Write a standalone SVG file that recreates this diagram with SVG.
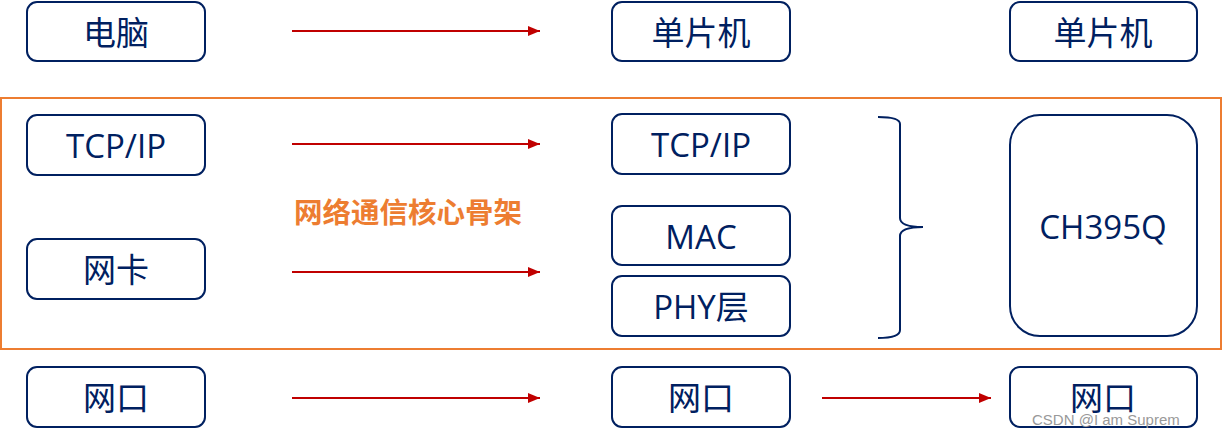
<svg xmlns="http://www.w3.org/2000/svg" width="1223" height="438" viewBox="0 0 1223 438">
<style>
.box{fill:#fff;stroke:#002060;stroke-width:2}
.t{font-family:"Open Sans","Noto Sans CJK SC",sans-serif;font-size:33px;fill:#002060;text-anchor:middle;dominant-baseline:central}
.arr{stroke:#C00000;stroke-width:2;fill:none;marker-end:url(#ah)}
</style>
<defs>
<marker id="ah" markerWidth="12" markerHeight="10" refX="12" refY="5" orient="auto" markerUnits="userSpaceOnUse">
<path d="M0,0 L12,5 L0,10 Z" fill="#C00000"/>
</marker>
</defs>
<rect x="1" y="98" width="1220" height="251" fill="none" stroke="#ED7D31" stroke-width="2"/>
<g id="pc"><rect class="box" x="27" y="2" width="178" height="59" rx="10"/><text class="t" x="116" y="32">电脑</text></g>
<g id="tcp1"><rect class="box" x="27" y="115" width="178" height="60" rx="10"/><text class="t" x="116" y="145">TCP/IP</text></g>
<g id="nic"><rect class="box" x="27" y="239" width="178" height="60" rx="10"/><text class="t" x="116" y="269">网卡</text></g>
<g id="port1"><rect class="box" x="27" y="367" width="178" height="60" rx="10"/><text class="t" x="116" y="397">网口</text></g>
<g id="mcu1"><rect class="box" x="612" y="2" width="178" height="59" rx="10"/><text class="t" x="701" y="32">单片机</text></g>
<g id="tcp2"><rect class="box" x="612" y="114" width="178" height="60" rx="10"/><text class="t" x="701" y="144">TCP/IP</text></g>
<g id="mac"><rect class="box" x="612" y="206" width="178" height="59" rx="10"/><text class="t" x="701" y="236">MAC</text></g>
<g id="phy"><rect class="box" x="612" y="276" width="178" height="60" rx="10"/><text class="t" x="701" y="306">PHY层</text></g>
<g id="port2"><rect class="box" x="612" y="367" width="178" height="60" rx="10"/><text class="t" x="701" y="397">网口</text></g>
<g id="mcu2"><rect class="box" x="1010" y="2" width="187" height="59" rx="10"/><text class="t" x="1103" y="32">单片机</text></g>
<g id="ch395q"><rect class="box" x="1010" y="115" width="187" height="221" rx="30"/><text class="t" x="1103" y="226">CH395Q</text></g>
<g id="port3"><rect class="box" x="1010" y="367" width="187" height="60" rx="10"/><text class="t" x="1103" y="397">网口</text></g>
<g id="brace"><path d="M878,117 Q900,117 900,124 L900,218 Q900,227 923,227 Q900,227 900,236 L900,330 Q900,338 878,338" fill="none" stroke="#002060" stroke-width="2"/></g>
<text x="294" y="210" font-family="'Noto Sans CJK SC',sans-serif" font-size="28.5" font-weight="bold" fill="#ED7D31" dominant-baseline="central">网络通信核心骨架</text>
<g id="connectors">
<line class="arr" x1="292" y1="31" x2="540" y2="31"/>
<line class="arr" x1="292" y1="144" x2="540" y2="144"/>
<line class="arr" x1="292" y1="272" x2="540" y2="272"/>
<line class="arr" x1="292" y1="398" x2="540" y2="398"/>
<line class="arr" x1="822" y1="398" x2="991" y2="398"/>
</g>
<text x="1032" y="425" font-family="'Liberation Sans',sans-serif" font-size="15" fill="#999">CSDN @I am Suprem</text>
</svg>
